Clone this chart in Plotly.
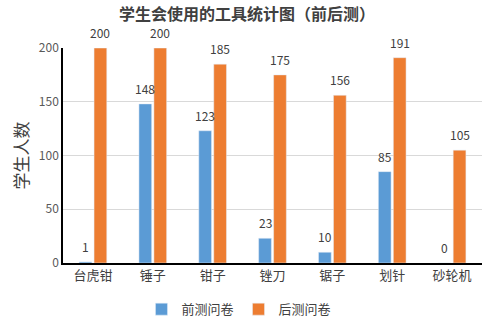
import plotly.graph_objects as go

categories = ["台虎钳", "锤子", "钳子", "锉刀", "锯子", "划针", "砂轮机"]
pre_values = [1, 148, 123, 23, 10, 85, 0]
post_values = [200, 200, 185, 175, 156, 191, 105]
y_ticks = [0, 50, 100, 150, 200]

font_family = "Noto Sans CJK SC, Microsoft YaHei, sans-serif"
label_color = "#404040"

fig = go.Figure()
fig.add_trace(go.Bar(x=categories, y=pre_values, name="前测问卷", marker_color="#5B9BD5"))
fig.add_trace(go.Bar(x=categories, y=post_values, name="后测问卷", marker_color="#ED7D31"))

# value labels above the bars
for series, shift in ((pre_values, -7.5), (post_values, 7.5)):
    for cat, v in zip(categories, series):
        fig.add_annotation(x=cat, y=v, xref="x", yref="y", text=str(v), showarrow=False,
                           xshift=shift, yshift=5, yanchor="bottom",
                           font=dict(size=12, color=label_color))

fig.update_layout(
    width=494, height=323,
    margin=dict(l=63, r=12, t=48, b=60, autoexpand=False),
    paper_bgcolor="white", plot_bgcolor="white",
    font=dict(family=font_family, size=12, color="#595959"),
    title=dict(text="<b>学生会使用的工具统计图（前后测）</b>", x=0.5, xanchor="center",
               y=0.955, yanchor="middle", font=dict(size=16, color="#404040")),
    barmode="group", bargap=0.5, bargroupgap=0.15,
    showlegend=True,
    legend=dict(orientation="h", x=0.42, xanchor="center", y=-0.145, yanchor="top",
                font=dict(size=13, color="#404040"), itemwidth=30),
)
fig.update_yaxes(
    range=[0, 200], tickvals=y_ticks, showgrid=True, gridcolor="#D9D9D9",
    showline=True, linecolor="black", linewidth=1.5, zeroline=False,
    ticks="", tickfont=dict(size=12, color="#595959"),
    title=dict(text="学生人数", font=dict(size=17, color="#404040"), standoff=6),
)
fig.update_xaxes(
    showline=True, linecolor="black", linewidth=1.5, ticks="",
    tickfont=dict(size=13, color="#404040"),
)

fig.write_html("out.html")
